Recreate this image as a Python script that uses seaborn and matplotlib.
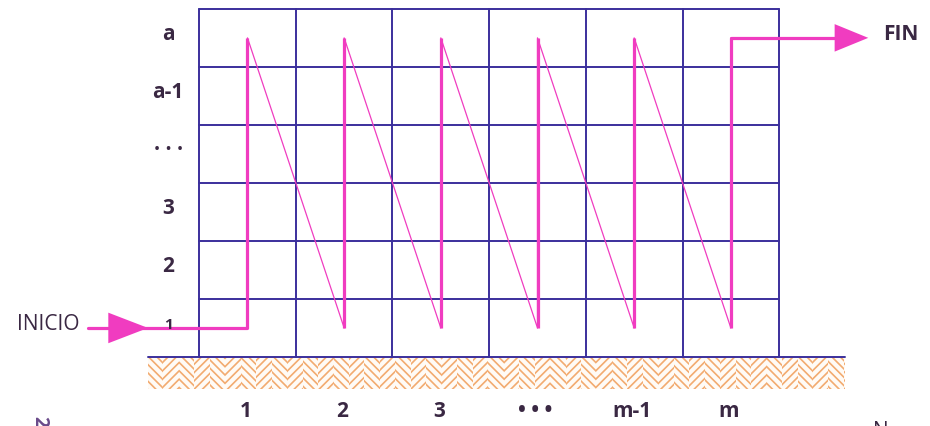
import numpy as np
import pandas as pd
import matplotlib.pyplot as plt
import seaborn as sns

# etiquetas del diagrama (columnas = puntos de medición, filas = niveles)
col_labels = ["1", "2", "3", "• • •", "m-1", "m"]
row_labels = ["1", "2", "3", "· · ·", "a-1", "a"]
start_label = "INICIO"
end_label = "FIN"

n_cols = len(col_labels)
n_rows = len(row_labels)

sns.set_style("white")
plt.rcParams['font.family'] = ['Open Sans', 'DejaVu Sans']
plt.rcParams['hatch.linewidth'] = 1.2
plt.rcParams['hatch.color'] = "#f2ab70"

grid_c = "#3b2f9c"
pink = "#f03cc0"
txt_c = "#3a2843"

fig = plt.figure(figsize=(9.30, 4.27), dpi=100)
ax = fig.add_axes([0, 0, 1, 1])
ax.set_xlim(-2.06, 7.56)
ax.set_ylim(-1.19, 6.17)
ax.axis("off")

# suelo con trama en espiga
g_left, g_right, g_bot = -0.53, 6.68, -0.56
step = 0.16
edges = np.arange(g_left, g_right, step)
for k, x0 in enumerate(edges):
    x1 = min(x0 + step, g_right)
    ax.fill_between([x0, x1], g_bot, 0, facecolor="#fffbf6",
                    edgecolor="#f2ab70", hatch="/" * 4 if k % 2 else "\\" * 4,
                    linewidth=0)
ax.plot([g_left, g_right], [0, 0], color=grid_c, lw=1.4)

# malla
for i in range(n_cols + 1):
    ax.plot([i, i], [0, n_rows], color=grid_c, lw=1.4)
for j in range(1, n_rows + 1):
    ax.plot([0, n_cols], [j, j], color=grid_c, lw=1.4)

# recorrido en zigzag
centers = np.arange(n_cols) + 0.5
low, high = 0.5, n_rows - 0.5
ax.vlines(centers, low, high, color=pink, lw=2.3, zorder=3)
zx, zy = [], []
for c in centers:
    zx += [c, c]
    zy += [low, high]
path = pd.DataFrame({"x": zx, "y": zy})
sns.lineplot(data=path, x="x", y="y", sort=False, estimator=None,
             color=pink, lw=0.9, ax=ax, zorder=3)

# entrada y salida
ax.plot([-1.15, centers[0]], [low, low], color=pink, lw=2.3, zorder=3)
ax.annotate("", xy=(-0.5, low), xytext=(-1.0, low),
            arrowprops=dict(arrowstyle="-|>,head_length=1.3,head_width=0.5",
                            color=pink, lw=0, mutation_scale=22), zorder=4)
ax.plot([centers[-1], 6.75], [high, high], color=pink, lw=2.3, zorder=3)
ax.annotate("", xy=(6.95, high), xytext=(6.6, high),
            arrowprops=dict(arrowstyle="-|>,head_length=1.1,head_width=0.45",
                            color=pink, lw=0, mutation_scale=22), zorder=4)

ax.text(-1.56, low + 0.07, start_label, ha="center", va="center",
        fontsize=15, color=txt_c)
ax.text(7.08, high + 0.07, end_label, ha="left", va="center",
        fontsize=15, color=txt_c, fontweight="bold")

# etiquetas de niveles y columnas
for j, lab in enumerate(row_labels):
    ax.text(-0.32, j + 0.57, lab, ha="center", va="center",
            fontsize=15 if j > 0 else 11, color=txt_c, fontweight="bold")
for i, lab in enumerate(col_labels):
    ax.text(centers[i] - 0.02, -0.93, lab, ha="center", va="center",
            fontsize=15, color=txt_c, fontweight="bold")

# fragmentos cortados en el borde inferior
ax.text(-1.65, -1.09, "2", rotation=-90, ha="center", va="center",
        fontsize=14, color="#6a4a8a", fontweight="bold", clip_on=False)
ax.text(7.05, -1.27, "N", ha="center", va="center",
        fontsize=15, color=txt_c, clip_on=False)

fig.savefig("out.png", dpi=100)
